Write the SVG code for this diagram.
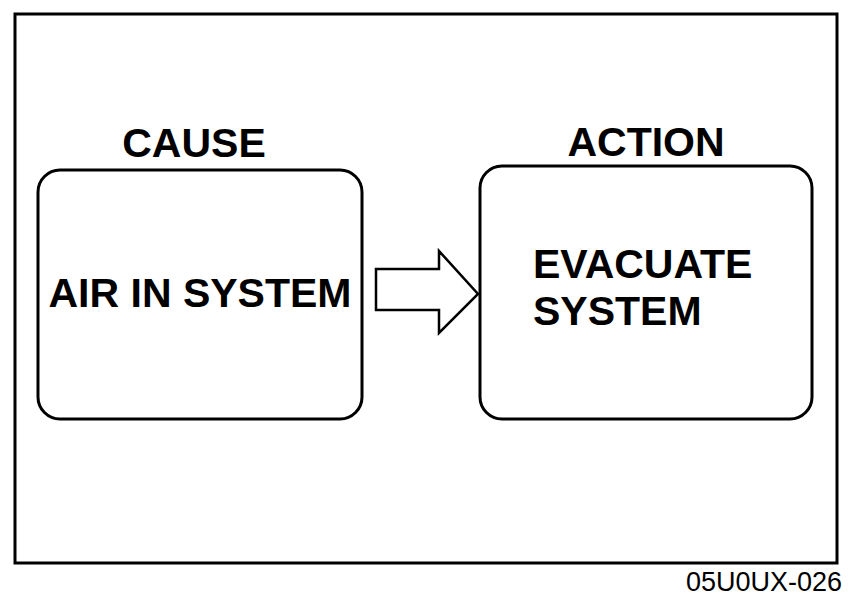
<svg xmlns="http://www.w3.org/2000/svg" width="852" height="598" viewBox="0 0 852 598">
<style>
.box{fill:none;stroke:#000;stroke-width:3}
.b{font-family:"Liberation Sans",Arial,sans-serif;font-weight:bold;font-size:41px;fill:#000}
.cap{font-family:"Liberation Sans",Arial,sans-serif;font-size:27px;fill:#000}
</style>
<rect width="852" height="598" fill="#fff"/>
<rect x="15" y="14" width="822" height="549" fill="none" stroke="#000" stroke-width="3"/>
<g id="cause">
<text class="b" x="194" y="157" text-anchor="middle">CAUSE</text>
<rect class="box" x="38" y="170" width="324" height="249" rx="22" ry="22"/>
<text class="b" x="200" y="307" text-anchor="middle" font-size="43">AIR IN SYSTEM</text>
</g>
<g id="action">
<text class="b" x="646" y="156" text-anchor="middle">ACTION</text>
<rect class="box" x="480" y="166" width="332" height="253" rx="22" ry="22"/>
<text class="b" x="533" y="278">EVACUATE</text>
<text class="b" x="533" y="325">SYSTEM</text>
</g>
<g id="connectors">
<path d="M376 269 H439 V251 L478 294 L439 333 V310 H376 Z" fill="#fff" stroke="#000" stroke-width="2.5" stroke-linejoin="miter"/>
</g>
<text class="cap" x="842" y="591" text-anchor="end">05U0UX-026</text>
</svg>
